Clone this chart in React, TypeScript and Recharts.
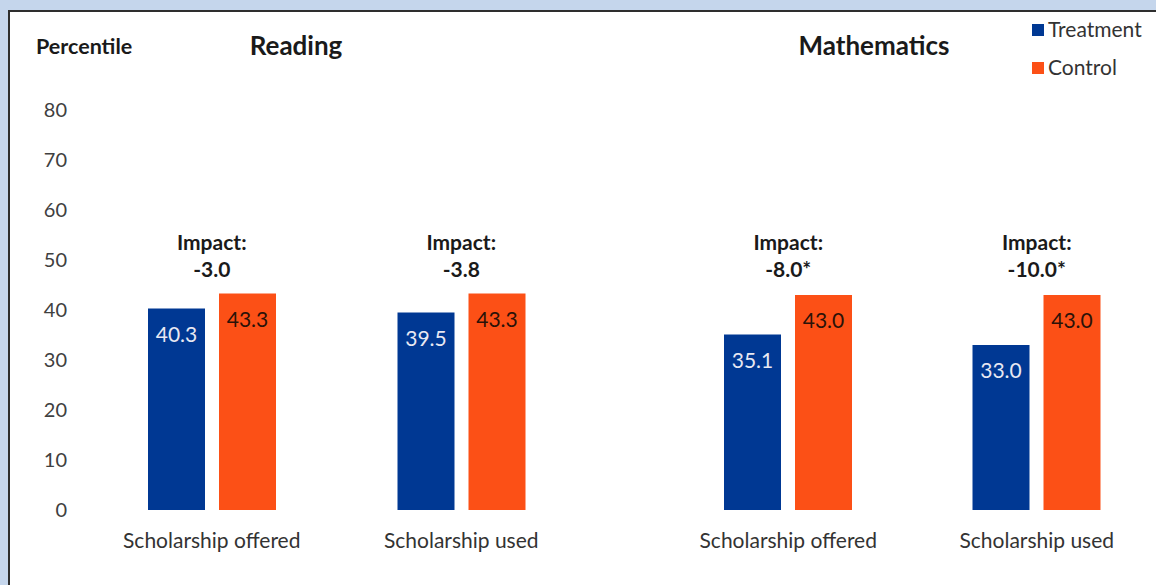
import React from "react";
import { BarChart, Bar, XAxis, YAxis, LabelList, ReferenceDot } from "recharts";

const categories = ["Scholarship offered", "Scholarship used"];
const readingTreatment = [40.3, 39.5];
const readingControl = [43.3, 43.3];
const readingImpact = ["-3.0", "-3.8"];
const mathTreatment = [35.1, 33.0];
const mathControl = [43.0, 43.0];
const mathImpact = ["-8.0*", "-10.0*"];
const yTicks = [0, 10, 20, 30, 40, 50, 60, 70, 80];
const impactLevel = 53;

const BLUE = "#003893";
const ORANGE = "#FC5016";
const FONT = "Lato, 'Open Sans', sans-serif";

const readingData = categories.map((c, i) => ({
  name: c,
  treatment: readingTreatment[i],
  control: readingControl[i],
  impact: readingImpact[i],
}));
const mathData = categories.map((c, i) => ({
  name: c,
  treatment: mathTreatment[i],
  control: mathControl[i],
  impact: mathImpact[i],
}));

const valueLabel = (color: string) => (props: any) => {
  const { x, y, width, value } = props;
  return (
    <text
      x={x + width / 2}
      y={y + 33}
      textAnchor="middle"
      fill={color}
      fontSize={21}
      fontFamily={FONT}
    >
      {Number(value).toFixed(1)}
    </text>
  );
};

const impactShape = (impact: string) => (props: any) => {
  const { cx, cy } = props;
  return (
    <g fontFamily={FONT} fontWeight={700} fontSize={21} fill="#1a1a1a" textAnchor="middle">
      <text x={cx} y={cy + 5}>Impact:</text>
      <text x={cx} y={cy + 32}>{impact}</text>
    </g>
  );
};

function Panel({
  data,
  left,
  width,
  marginLeft,
  marginRight,
  showY,
}: {
  data: typeof readingData;
  left: number;
  width: number;
  marginLeft: number;
  marginRight: number;
  showY: boolean;
}) {
  return (
    <div style={{ position: "absolute", left, top: 0 }}>
      <BarChart
        width={width}
        height={585}
        data={data}
        margin={{ top: 110, right: marginRight, bottom: 35, left: marginLeft }}
        barSize={57}
        barGap={14}
      >
        <XAxis
          dataKey="name"
          axisLine={false}
          tickLine={false}
          tickSize={0}
          tickMargin={23}
          height={40}
          interval={0}
          tick={{ fill: "#333", fontSize: 21, fontFamily: FONT }}
        />
        <YAxis
          hide={!showY}
          width={76}
          domain={[0, 80]}
          ticks={yTicks}
          axisLine={false}
          tickLine={false}
          tickSize={0}
          tickMargin={20}
          tick={{ fill: "#404040", fontSize: 20, fontFamily: FONT }}
        />
        <Bar dataKey="treatment" name="Treatment" fill={BLUE} isAnimationActive={false}>
          <LabelList dataKey="treatment" content={valueLabel("#e8e8f2")} />
        </Bar>
        <Bar dataKey="control" name="Control" fill={ORANGE} isAnimationActive={false}>
          <LabelList dataKey="control" content={valueLabel("#2a1208")} />
        </Bar>
        {data.map((d) => (
          <ReferenceDot
            key={d.name}
            x={d.name}
            y={impactLevel}
            r={0}
            shape={impactShape(d.impact)}
          />
        ))}
      </BarChart>
    </div>
  );
}

export default function App() {
  return (
    <div
      style={{
        position: "fixed",
        left: 0,
        top: 0,
        width: 1156,
        height: 585,
        background: "#c5d6ec",
        overflow: "hidden",
      }}
    >
      <div
        style={{
          position: "absolute",
          left: 8,
          top: 10,
          width: 1148,
          height: 575,
          background: "#fff",
          borderTop: "2px solid #2e2e2e",
          borderLeft: "2px solid #2e2e2e",
          boxSizing: "border-box",
        }}
      />
      <svg
        width={1156}
        height={585}
        style={{ position: "absolute", left: 0, top: 0 }}
        fontFamily={FONT}
      >
        <text x={36} y={54} fontSize={21.5} fontWeight={700} fill="#1a1a1a">
          Percentile
        </text>
        <text x={296} y={55} fontSize={26} fontWeight={700} fill="#1a1a1a" textAnchor="middle">
          Reading
        </text>
        <text x={874} y={55} fontSize={26} fontWeight={700} fill="#1a1a1a" textAnchor="middle">
          Mathematics
        </text>
        <rect x={1032} y={24} width={12} height={12} fill={BLUE} />
        <text x={1048} y={37} fontSize={21} fill="#333">
          Treatment
        </text>
        <rect x={1032} y={62} width={12} height={12} fill={ORANGE} />
        <text x={1048} y={75} fontSize={21} fill="#333">
          Control
        </text>
      </svg>
      <Panel data={readingData} left={0} width={600} marginLeft={11} marginRight={14} showY />
      <Panel data={mathData} left={600} width={561} marginLeft={64} marginRight={0} showY={false} />
    </div>
  );
}
